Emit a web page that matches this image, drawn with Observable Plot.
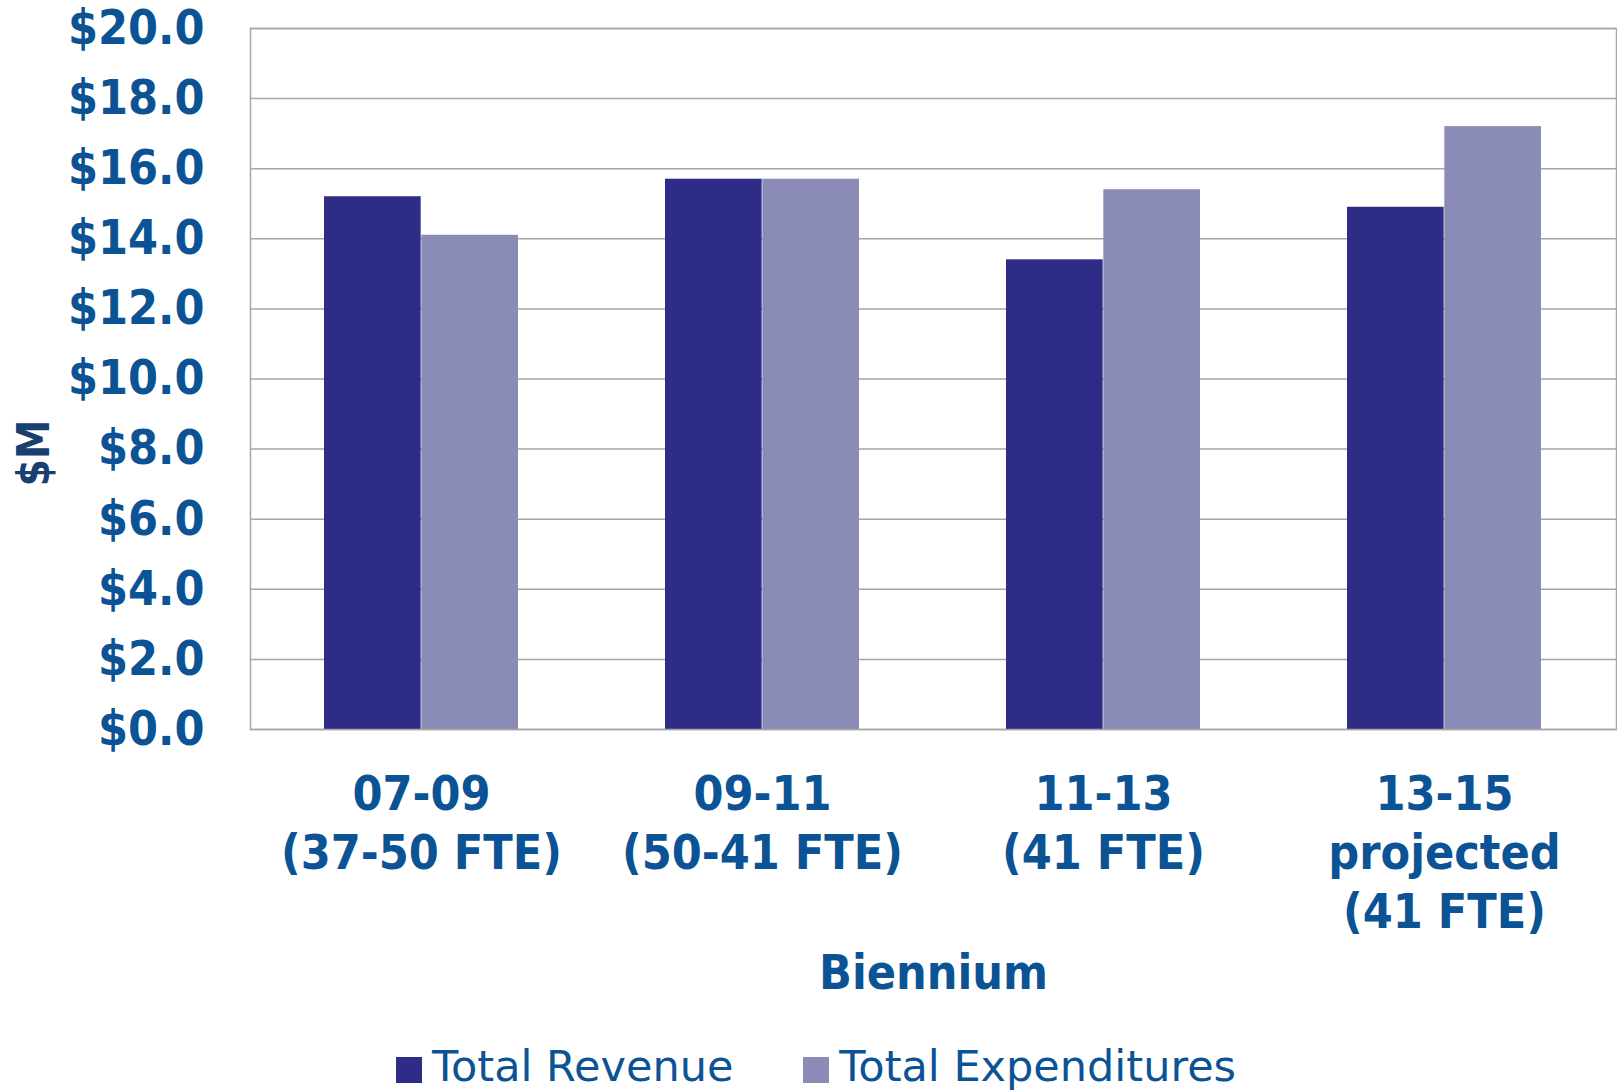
<!DOCTYPE html>
<html>
<head>
<meta charset="utf-8">
<script src="https://cdn.jsdelivr.net/npm/d3@7"></script>
<script src="https://cdn.jsdelivr.net/npm/@observablehq/plot@0.6"></script>
<style>
  body { margin: 0; background: #fff; }
  #wrap { position: relative; width: 1617px; height: 1091px; overflow: hidden;
          font-family: "DejaVu Sans Condensed", "DejaVu Sans", sans-serif; font-stretch: condensed; }
  #wrap svg text { font-stretch: condensed; }
  #ylab { position: absolute; left: 34px; top: 453px; transform: translate(-50%, -50%) rotate(-90deg);
          font-weight: bold; font-size: 44px; color: #173f70; white-space: nowrap; line-height: 1; }
  #legend { position: absolute; left: 396px; top: 1045px; display: flex; align-items: center;
            font-family: "DejaVu Sans", sans-serif; font-stretch: normal;
            font-size: 43px; color: #0b5394; line-height: 1; white-space: nowrap; }
  .item { display: flex; align-items: center; }
  .sw { width: 26px; height: 26px; margin-right: 10px; margin-top: 6px; }
</style>
</head>
<body>
<div id="wrap">
  <div id="chart"></div>
  <div id="ylab">$M</div>
  <div id="legend"></div>
</div>
<script>
// ---- data ----
const categories = ["07-09\n(37-50 FTE)", "09-11\n(50-41 FTE)", "11-13\n(41 FTE)", "13-15\nprojected\n(41 FTE)"];
const series = ["Total Revenue", "Total Expenditures"];
const revenue = [15.2, 15.7, 13.4, 14.9];
const expenditures = [14.1, 15.7, 15.4, 17.2];
const yTicks = [0, 2, 4, 6, 8, 10, 12, 14, 16, 18, 20];
const colors = ["#2e2c86", "#8a8bb7"];

// ---- layout ----
const W = 1617, H = 1010, mL = 250, mR = 1, mT = 28, mB = 281;
const padInner = 0.43;
const step = (W - mL - mR) / categories.length;
const half = step * (1 - padInner) / 2;
const textColor = "#0b5394";

const revRows = categories.map((c, i) => ({cat: c, series: series[0], value: revenue[i]}));
const expRows = categories.map((c, i) => ({cat: c, series: series[1], value: expenditures[i]}));

const chart = Plot.plot({
  width: W, height: H,
  marginLeft: mL, marginRight: mR, marginTop: mT, marginBottom: mB,
  style: {fontFamily: '"DejaVu Sans Condensed", "DejaVu Sans", sans-serif', background: "#fff"},
  x: {domain: categories, paddingInner: padInner, paddingOuter: padInner / 2},
  y: {domain: [0, 20]},
  color: {domain: series, range: colors},
  marks: [
    Plot.gridY(yTicks, {stroke: "#a6a6a6", strokeOpacity: 1, strokeWidth: 1.5}),
    Plot.barY(revRows, {x: "cat", y: "value", fill: "series", insetRight: half, insetLeft: 0}),
    Plot.barY(expRows, {x: "cat", y: "value", fill: "series", insetLeft: half, insetRight: 0}),
    Plot.frame({stroke: "#a6a6a6", strokeWidth: 1.5}),
    Plot.axisY({ticks: yTicks, tickSize: 0, tickPadding: 46, label: null,
      tickFormat: d => "$" + d.toFixed(1),
      fontSize: 48, fontWeight: "bold", fill: textColor}),
    Plot.axisX({tickSize: 0, tickPadding: 39, fontSize: 48, fontWeight: "bold", fill: textColor,
      lineHeight: 1.23, label: "Biennium", labelAnchor: "center", labelOffset: 259})
  ]
});
document.getElementById("chart").appendChild(chart);

const legend = document.getElementById("legend");
series.forEach((s, i) => {
  const it = document.createElement("div");
  it.className = "item";
  if (i > 0) it.style.marginLeft = "70px";
  const sw = document.createElement("div");
  sw.className = "sw";
  sw.style.background = colors[i];
  const t = document.createElement("span");
  t.textContent = s;
  it.appendChild(sw); it.appendChild(t);
  legend.appendChild(it);
});
</script>
</body>
</html>
